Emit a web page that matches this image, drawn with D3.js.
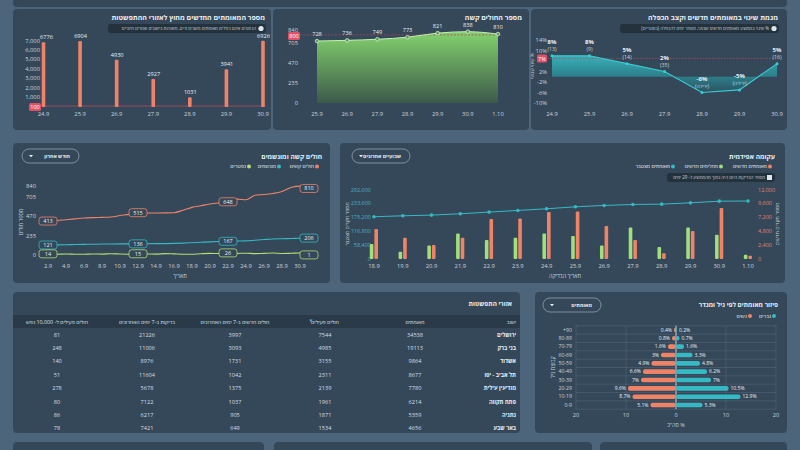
<!DOCTYPE html>
<html>
<head>
<meta charset="utf-8">
<script src="https://cdn.jsdelivr.net/npm/d3@7"></script>
<style>
  body { margin: 0; background: #4c657a; }
  svg { display: block; font-family: "Open Sans", "DejaVu Sans", sans-serif; }
</style>
</head>
<body>
<svg id="dash" width="800" height="450"></svg>
<script>
// ---- data ----
// new cases outside spreading areas
const outsideDates = ["24.9", "25.9", "26.9", "27.9", "28.9", "29.9", "30.9"];
const outsideCases = [6776, 6904, 4930, 2927, 1031, 3941, 6926];
const outsideTicks = [1000, 2000, 3000, 4000, 5000, 6000, 7000];
const outsideLimit = 100;

// severe patients
const severeDates = ["25.9", "26.9", "27.9", "28.9", "29.9", "30.9", "1.10"];
const severeValues = [728, 736, 749, 773, 821, 838, 810];
const severeTicks = [0, 235, 470, 705, 840];
const severeLimit = 800;

// weekly change trend
const trendDates = ["24.9", "25.9", "26.9", "27.9", "28.9", "29.9", "30.9"];
const trendPct = [8, 8, 5, 2, -6, -5, 5];
const trendDoubling = ["(13)", "(9)", "(14)", "(35)", "(ירידה)", "(ירידה)", "(16)"];
const trendTicks = [-10, -6, -2, 2, 10, 14];
const trendLimit = 7;

// severe & ventilated, last month
const monthDates = ["2.9", "3.9", "4.9", "5.9", "6.9", "7.9", "8.9", "9.9", "10.9", "11.9",
  "12.9", "13.9", "14.9", "15.9", "16.9", "17.9", "18.9", "19.9", "20.9", "21.9",
  "22.9", "23.9", "24.9", "25.9", "26.9", "27.9", "28.9", "29.9", "30.9", "1.10"];
const monthCritical = [413, 420, 430, 440, 450, 455, 458, 462, 480, 495,
  515, 512, 512, 513, 515, 545, 580, 600, 620, 635,
  648, 680, 672, 728, 736, 749, 773, 821, 838, 810];
const monthVentilated = [121, 123, 125, 127, 129, 131, 133, 134, 135, 136,
  136, 137, 138, 139, 141, 145, 150, 155, 160, 164,
  167, 170, 172, 180, 188, 195, 198, 200, 204, 206];
const monthDeceased = [14, 9, 12, 10, 9, 13, 11, 16, 12, 10,
  15, 13, 11, 17, 14, 10, 9, 16, 20, 18,
  26, 19, 22, 17, 20, 24, 18, 21, 25, 1];
const monthTicks = [0, 235, 470, 705, 840];
const monthLabelIdx = [0, 10, 20, 29];

// epidemic curve
const epiDates = ["18.9", "19.9", "20.9", "21.9", "22.9", "23.9", "24.9", "25.9", "26.9", "27.9", "28.9", "29.9", "30.9", "1.10"];
const epiNew = [5170, 3680, 2410, 3680, 6890, 7000, 8100, 8210, 5680, 3270, 980, 4820, 8790, 570];
const epiRecovered = [2580, 1260, 2350, 4420, 3270, 3680, 4420, 3960, 2350, 5460, 2070, 5460, 4190, 750];
const epiCumulative = [177400, 181600, 184400, 190000, 197000, 204000, 211000, 219300, 225000, 229000, 230500, 236000, 243000, 243500];
const epiLeftTicks = [0, 58400, 116800, 175200, 233600, 292000];
const epiRightTicks = [0, 2400, 4800, 7200, 9600, 12000];

// spreading areas table
const tableHeaders = ["ישוב", "מאומתים", "חולים פעילים", "חולים חדשים ב-7 ימים האחרונים", "בדיקות ב-7 ימים האחרונים", "חולים פעילים ל- 10,000 נפש"];
const cityNames = ["ירושלים", "בני ברק", "אשדוד", "תל אביב - יפו", "מודיעין עילית", "פתח תקווה", "נתניה", "באר שבע"];
const cityConfirmed = [34538, 19113, 9864, 8677, 7780, 6214, 5359, 4656];
const cityActive = [7544, 4985, 3155, 2311, 2139, 1961, 1871, 1534];
const cityNew7 = [3997, 3093, 1731, 1042, 1375, 1037, 905, 649];
const cityTests7 = [21226, 11006, 8976, 11604, 5678, 7122, 6217, 7421];
const cityPer10k = [81, 248, 140, 51, 278, 80, 86, 78];

// age / gender pyramid
const ageGroups = ["+90", "80-89", "70-79", "60-69", "50-59", "40-49", "30-39", "20-29", "10-19", "0-9"];
const womenPct = [0.4, 0.8, 1.6, 3, 4.9, 6.6, 7, 9.6, 8.7, 5.1];
const menPct = [0.2, 0.7, 1.6, 3.3, 4.8, 6.2, 7, 10.5, 12.9, 5.3];
const pyramidTicks = [-20, -10, 0, 10, 20];

// ---- style ----
const C = {
  card: "#35485a", head: "#2a3a49", text: "#e9eff3", tick: "#c9d3db",
  orange: "#ef8368", teal: "#35b9c3", green: "#9fe07c", lime: "#b4dc6e", red: "#df5069", pill: "#24323e"
};
const rtl = s => "\u202B" + s + "\u202C";
const svg = d3.select("#dash");
const defs = svg.append("defs");

function card(x, y, w, h) {
  svg.append("rect").attr("x", x).attr("y", y).attr("width", w).attr("height", h)
    .attr("rx", 4).attr("fill", C.card);
}
function title(x, y, t, size) {
  svg.append("text").attr("x", x).attr("y", y).attr("text-anchor", "end")
    .attr("font-size", size || 7).attr("font-weight", "bold").attr("fill", C.text).text(t);
}
function dropdown(x, y, w, t) {
  svg.append("rect").attr("x", x).attr("y", y).attr("width", w).attr("height", 14).attr("rx", 7)
    .attr("fill", "none").attr("stroke", "#8fa1af").attr("stroke-width", 0.8);
  svg.append("text").attr("x", x + w - 9).attr("y", y + 9.2).attr("text-anchor", "end")
    .attr("font-size", 5.2).attr("font-weight", "bold").attr("fill", C.text).text(t);
  svg.append("path").attr("d", `M${x + 7},${y + 6}l2,2.2l2,-2.2z`).attr("fill", C.text);
}
function infoPill(x1, x2, y, t, icon) {
  svg.append("rect").attr("x", x1).attr("y", y).attr("width", x2 - x1).attr("height", 9).attr("rx", 3)
    .attr("fill", C.pill);
  if (icon === "bars") {
    svg.append("rect").attr("x", x2 - 8).attr("y", y + 2).attr("width", 5).attr("height", 5).attr("fill", "#dfe6ea");
  } else {
    svg.append("circle").attr("cx", x2 - 5).attr("cy", y + 4.5).attr("r", 2.6).attr("fill", "#dfe6ea");
  }
  svg.append("text").attr("x", x2 - 10).attr("y", y + 6.2).attr("text-anchor", "end")
    .attr("font-size", 4.5).attr("fill", "#c9d3da").text(rtl(t));
}
function tickText(g, x, y, t, anchor, color, size) {
  g.append("text").attr("x", x).attr("y", y).attr("text-anchor", anchor || "middle")
    .attr("font-size", size || 5.8).attr("fill", color || C.tick).text(t);
}
function limitBox(x, y, w, t) {
  svg.append("rect").attr("x", x).attr("y", y - 4).attr("width", w).attr("height", 8).attr("rx", 1.5).attr("fill", C.red);
  svg.append("text").attr("x", x + w / 2).attr("y", y + 2.2).attr("text-anchor", "middle")
    .attr("font-size", 5.6).attr("fill", "#fff").text(t);
}

// ---- cards ----
card(13, -10, 774, 17);
card(13, 9, 258, 121);
card(273, 9, 256, 121);
card(531, 9, 256, 121);
card(13, 143, 317, 140);
card(340, 143, 445, 140);
card(13, 292, 507, 141);
card(535, 292, 252, 141);
card(13, 442, 251, 20);
card(274, 442, 318, 20);
card(600, 442, 187, 20);

// ---- panel 1: new cases outside spreading areas ----
{
  const g = svg.append("g");
  title(265, 20, "מספר המאומתים החדשים מחוץ לאזורי ההתפשטות");
  infoPill(108, 266, 24, "הנתונים אינם כוללים מאומתים משבים זרים, משוהות בישובים ואזורים חיוניים");
  const x = d3.scalePoint(outsideDates, [43.5, 263]);
  const y = d3.scaleLinear([0, 7000], [107, 40]);
  outsideTicks.forEach(t => tickText(g, 40, y(t) + (t === 7000 ? 3 : 2), d3.format(",")(t), "end"));
  g.append("line").attr("x1", 29).attr("x2", 266).attr("y1", y(outsideLimit)).attr("y2", y(outsideLimit))
    .attr("stroke", "#b8475c").attr("stroke-width", 0.8);
  g.selectAll("rect.bar").data(outsideCases).join("rect").attr("class", "bar")
    .attr("x", (d, i) => x(outsideDates[i]) - 1.8).attr("width", 3.6)
    .attr("y", d => y(d)).attr("height", d => y(0) - y(d)).attr("rx", 1).attr("fill", C.orange);
  g.selectAll("text.val").data(outsideCases).join("text").attr("class", "val")
    .attr("x", (d, i) => x(outsideDates[i]) + (i === 0 ? 3 : 0.5)).attr("y", d => y(d) - 3).attr("text-anchor", "middle")
    .attr("font-size", 5.6).attr("fill", C.text).text(d => d);
  outsideDates.forEach(d => tickText(g, x(d), 116, d));
  limitBox(29, y(0), 12, outsideLimit);
}

// ---- panel 2: severe patients ----
{
  const g = svg.append("g");
  title(522, 20, "מספר החולים קשה");
  const x = d3.scalePoint(severeDates, [317, 498]);
  const y = d3.scaleLinear([0, 840], [103, 31.5]);
  const grad = defs.append("linearGradient").attr("id", "gSevere").attr("gradientUnits", "userSpaceOnUse")
    .attr("x1", 0).attr("x2", 0).attr("y1", 35).attr("y2", 103);
  grad.append("stop").attr("offset", 0).attr("stop-color", "#80cc6c");
  grad.append("stop").attr("offset", 1).attr("stop-color", "#3c5a4b");
  severeTicks.forEach(t => tickText(g, 298, y(t) + (t === 840 ? 0 : 2), t, "end"));
  g.append("path").datum(severeValues)
    .attr("d", d3.area().x((d, i) => x(severeDates[i])).y0(y(0)).y1(d => y(d)).curve(d3.curveMonotoneX))
    .attr("fill", "url(#gSevere)");
  g.append("line").attr("x1", 300).attr("x2", 502).attr("y1", y(severeLimit)).attr("y2", y(severeLimit))
    .attr("stroke", "#a6485a").attr("stroke-width", 0.8).attr("stroke-dasharray", "2,1.5");
  g.append("path").datum(severeValues)
    .attr("d", d3.line().x((d, i) => x(severeDates[i])).y(d => y(d)).curve(d3.curveMonotoneX))
    .attr("fill", "none").attr("stroke", "#c7f0b6").attr("stroke-width", 1);
  g.selectAll("circle").data(severeValues).join("circle")
    .attr("cx", (d, i) => x(severeDates[i])).attr("cy", d => y(d)).attr("r", 1.8)
    .attr("fill", "#5b9a5a").attr("stroke", "#e4f7dc").attr("stroke-width", 0.7);
  g.selectAll("text.val").data(severeValues).join("text").attr("class", "val")
    .attr("x", (d, i) => x(severeDates[i])).attr("y", d => y(d) - 5).attr("text-anchor", "middle")
    .attr("font-size", 5.6).attr("fill", C.text).text(d => d);
  severeDates.forEach(d => tickText(g, x(d), 116, d));
  limitBox(288, y(severeLimit) + 1, 12, severeLimit);
}

// ---- panel 3: weekly change & doubling ----
{
  const g = svg.append("g");
  title(778, 20, "מגמת שינוי במאומתים חדשים וקצב הכפלה");
  infoPill(620, 779, 24, "% שינוי בממוצע מאומתים חדשים שבועי, מספר ימים להכפלה (בסוגריים)");
  const x = d3.scalePoint(trendDates, [552, 777]);
  const y = d3.scaleLinear([-10, 14], [103, 40]);
  const grad = defs.append("linearGradient").attr("id", "gTrend").attr("gradientUnits", "userSpaceOnUse")
    .attr("x1", 0).attr("x2", 0).attr("y1", 55).attr("y2", 95);
  grad.append("stop").attr("offset", 0).attr("stop-color", "#38b2ba");
  grad.append("stop").attr("offset", 0.55).attr("stop-color", "#2c7d88");
  grad.append("stop").attr("offset", 1).attr("stop-color", "#2d4c5c");
  trendTicks.forEach(t => tickText(g, 547, y(t) + 2, t + "%", "end"));
  g.append("path").datum(trendPct)
    .attr("d", d3.area().x((d, i) => x(trendDates[i])).y0(y(0)).y1(d => y(d)))
    .attr("fill", "url(#gTrend)");
  g.append("line").attr("x1", 547).attr("x2", 780).attr("y1", y(trendLimit)).attr("y2", y(trendLimit))
    .attr("stroke", "#b04a5c").attr("stroke-width", 0.8).attr("stroke-dasharray", "1.5,1.5");
  g.append("path").datum(trendPct)
    .attr("d", d3.line().x((d, i) => x(trendDates[i])).y(d => y(d)))
    .attr("fill", "none").attr("stroke", "#3ccbd1").attr("stroke-width", 1.2);
  g.selectAll("circle").data(trendPct).join("circle")
    .attr("cx", (d, i) => x(trendDates[i])).attr("cy", d => y(d)).attr("r", 1.5).attr("fill", "#3ccbd1");
  g.selectAll("text.pct").data(trendPct).join("text").attr("class", "pct")
    .attr("x", (d, i) => x(trendDates[i])).attr("y", d => y(d) - 12).attr("text-anchor", "middle")
    .attr("font-size", 6).attr("font-weight", "bold").attr("fill", C.text).text(d => d + "%");
  g.selectAll("text.dbl").data(trendDoubling).join("text").attr("class", "dbl")
    .attr("x", (d, i) => x(trendDates[i])).attr("y", (d, i) => y(trendPct[i]) - 5).attr("text-anchor", "middle")
    .attr("font-size", 5.2).attr("fill", C.tick).text(d => d);
  trendDates.forEach(d => tickText(g, x(d), 116, d));
  limitBox(537, y(trendLimit), 10, trendLimit + "%");
  g.append("text").attr("transform", `translate(534,${y(4)}) rotate(-90)`).attr("text-anchor", "middle")
    .attr("font-size", 4.6).attr("fill", C.tick).text(rtl("% שינוי שבועי"));
}

// ---- panel 4: severe and ventilated ----
{
  const g = svg.append("g");
  title(322, 159, "חולים קשה ומונשמים", 6.6);
  dropdown(22, 149, 57, "חודש אחרון");
  const series = [
    { name: "חולים קשים", values: monthCritical, color: C.orange, dot: 317 },
    { name: "מונשמים", values: monthVentilated, color: C.teal, dot: 279 },
    { name: "נפטרים", values: monthDeceased, color: C.lime, dot: 249 }
  ];
  series.forEach(s => {
    g.append("circle").attr("cx", s.dot).attr("cy", 166.5).attr("r", 2).attr("fill", s.color);
    g.append("text").attr("x", s.dot - 3).attr("y", 168.3).attr("text-anchor", "end")
      .attr("font-size", 5.2).attr("fill", C.text).text(s.name);
  });
  const x = d3.scalePoint(monthDates, [48, 309]);
  const y = d3.scaleLinear([0, 840], [255, 186]);
  monthTicks.forEach(t => tickText(g, 36, y(t) + 2, t, "end"));
  monthDates.forEach((d, i) => { if (i % 2 === 0) tickText(g, x(d), 268, d); });
  g.append("text").attr("x", 180).attr("y", 278).attr("text-anchor", "middle")
    .attr("font-size", 5.5).attr("fill", C.tick).text("תאריך");
  g.append("text").attr("transform", "translate(23,222) rotate(-90)").attr("text-anchor", "middle")
    .attr("font-size", 5.5).attr("fill", C.tick).text("מספר חולים");
  const line = d3.line().x((d, i) => x(monthDates[i])).y(d => y(d)).curve(d3.curveMonotoneX);
  series.forEach(s => {
    g.append("path").datum(s.values).attr("d", line)
      .attr("fill", "none").attr("stroke", s.color).attr("stroke-width", 1.1);
  });
  series.forEach(s => {
    monthLabelIdx.forEach(i => {
      const cx = x(monthDates[i]), cy = y(s.values[i]);
      g.append("rect").attr("x", cx - 9).attr("y", cy - 4).attr("width", 18).attr("height", 8).attr("rx", 2.5)
        .attr("fill", C.card).attr("stroke", s.color).attr("stroke-width", 0.8);
      g.append("text").attr("x", cx).attr("y", cy + 2).attr("text-anchor", "middle")
        .attr("font-size", 5.5).attr("fill", C.text).text(s.values[i]);
    });
  });
}

// ---- panel 5: epidemic curve ----
{
  const g = svg.append("g");
  title(775, 159, "עקומה אפידמית", 6.6);
  dropdown(352, 149, 58, "שבועיים אחרונים");
  const legend = [
    { name: "מאומתים חדשים", color: C.orange, dot: 770 },
    { name: "מחלימים חדשים", color: C.green, dot: 721 },
    { name: "מאומתים מצטבר", color: C.teal, dot: 673 }
  ];
  legend.forEach(s => {
    g.append("circle").attr("cx", s.dot).attr("cy", 166.5).attr("r", 2).attr("fill", s.color);
    g.append("text").attr("x", s.dot - 3).attr("y", 168.3).attr("text-anchor", "end")
      .attr("font-size", 5.2).attr("fill", C.text).text(s.name);
  });
  infoPill(667, 775, 173, "מספר הבדיקות היום היה נמוך מהממוצע ל- 29 ימים", "bars");
  const x = d3.scaleBand(epiDates, [359.6, 762.4]);
  const yL = d3.scaleLinear([0, 292000], [259, 189.5]);
  const yR = d3.scaleLinear([0, 12000], [259, 189.5]);
  const cx = d => x(d) + x.bandwidth() / 2;
  epiLeftTicks.forEach(t => tickText(g, 371, yL(t) + 2, d3.format(",")(t), "end", "#49aecb", 5.5));
  epiRightTicks.forEach(t => tickText(g, 758, yR(t) + 2, d3.format(",")(t), "start", "#e2806a", 5.5));
  g.append("text").attr("transform", "translate(349,224) rotate(-90)").attr("text-anchor", "middle")
    .attr("font-size", 5.3).attr("fill", C.tick).text("מספר מקרים מצטבר");
  g.append("text").attr("transform", "translate(779,224) rotate(-90)").attr("text-anchor", "middle")
    .attr("font-size", 5.3).attr("fill", C.tick).text("מספר מקרים חדשים");
  g.selectAll("rect.rec").data(epiRecovered).join("rect").attr("class", "rec")
    .attr("x", (d, i) => cx(epiDates[i]) - 4.2).attr("width", 3.6)
    .attr("y", d => yR(d)).attr("height", d => yR(0) - yR(d)).attr("rx", 1).attr("fill", C.green);
  g.selectAll("rect.new").data(epiNew).join("rect").attr("class", "new")
    .attr("x", (d, i) => cx(epiDates[i]) + 0.4).attr("width", 3.6)
    .attr("y", d => yR(d)).attr("height", d => yR(0) - yR(d)).attr("rx", 1).attr("fill", C.orange);
  g.append("path").datum(epiCumulative)
    .attr("d", d3.line().x((d, i) => cx(epiDates[i])).y(d => yL(d)))
    .attr("fill", "none").attr("stroke", C.teal).attr("stroke-width", 1);
  g.selectAll("circle.cum").data(epiCumulative).join("circle").attr("class", "cum")
    .attr("cx", (d, i) => cx(epiDates[i])).attr("cy", d => yL(d)).attr("r", 1.8).attr("fill", C.teal);
  epiDates.forEach(d => tickText(g, cx(d), 268, d));
  g.append("text").attr("x", 565).attr("y", 278).attr("text-anchor", "middle")
    .attr("font-size", 5.5).attr("fill", C.tick).text("תאריך הבדיקה");
}

// ---- panel 6: spreading areas table ----
{
  const g = svg.append("g");
  title(512, 306, "אזורי התפשטות", 6.4);
  g.append("rect").attr("x", 13).attr("y", 315).attr("width", 507).attr("height", 13).attr("fill", C.head);
  const colX = [516, 415, 325, 235, 147, 57];
  tableHeaders.forEach((h, i) => {
    g.append("text").attr("x", colX[i]).attr("y", 323.8).attr("text-anchor", i === 0 ? "end" : "middle")
      .attr("font-size", 5.3).attr("fill", "#dbe3e9").text(h);
  });
  g.append("path").attr("d", "M309,319.5l3.6,0l-1.8,2.4z").attr("fill", "#4aa8e0");
  const rowY = d3.scaleBand(cityNames, [328, 435]);
  const cols = [cityConfirmed, cityActive, cityNew7, cityTests7, cityPer10k];
  const rows = g.selectAll("g.row").data(cityNames).join("g").attr("class", "row")
    .attr("transform", d => `translate(0,${rowY(d) + rowY.bandwidth() / 2 + 2})`);
  rows.append("text").attr("x", colX[0]).attr("text-anchor", "end").attr("font-size", 5.6)
    .attr("font-weight", "bold").attr("fill", C.text).text(d => d);
  cols.forEach((col, c) => {
    rows.append("text").attr("x", colX[c + 1]).attr("text-anchor", "middle").attr("font-size", 5.6)
      .attr("fill", "#d6dee4").text((d, i) => col[i]);
  });
}

// ---- panel 7: age / gender pyramid ----
{
  const g = svg.append("g");
  title(778, 307, "פיזור מאומתים לפי גיל ומגדר", 6.4);
  dropdown(543, 298, 58, "מאומתים");
  g.append("circle").attr("cx", 774).attr("cy", 316).attr("r", 2).attr("fill", C.teal);
  g.append("text").attr("x", 771).attr("y", 318).attr("text-anchor", "end").attr("font-size", 5.2)
    .attr("fill", C.text).text("גברים");
  g.append("circle").attr("cx", 750).attr("cy", 316).attr("r", 2).attr("fill", C.orange);
  g.append("text").attr("x", 747).attr("y", 318).attr("text-anchor", "end").attr("font-size", 5.2)
    .attr("fill", C.text).text("נשים");
  const x = d3.scaleLinear([-20, 20], [576, 776]);
  const y = d3.scaleBand(ageGroups, [325.8, 409.2]);
  ageGroups.concat([null]).forEach(a => {
    const yy = a === null ? y.range()[1] : y(a);
    g.append("line").attr("x1", 576).attr("x2", 776).attr("y1", yy).attr("y2", yy)
      .attr("stroke", "#566b7c").attr("stroke-width", 0.5);
  });
  pyramidTicks.forEach(t => {
    g.append("line").attr("x1", x(t)).attr("x2", x(t)).attr("y1", 325.8).attr("y2", 409.2)
      .attr("stroke", t === 0 ? "#e8eef2" : "#566b7c").attr("stroke-width", t === 0 ? 0.8 : 0.5);
    tickText(g, x(t), 417, Math.abs(t), "middle", C.tick, 5.5);
  });
  const bh = 4.6;
  g.selectAll("rect.w").data(womenPct).join("rect").attr("class", "w")
    .attr("x", d => x(-d)).attr("width", d => x(0) - x(-d))
    .attr("y", (d, i) => y(ageGroups[i]) + y.bandwidth() / 2 - bh / 2).attr("height", bh)
    .attr("rx", 2).attr("fill", C.orange);
  g.selectAll("rect.m").data(menPct).join("rect").attr("class", "m")
    .attr("x", x(0)).attr("width", d => x(d) - x(0))
    .attr("y", (d, i) => y(ageGroups[i]) + y.bandwidth() / 2 - bh / 2).attr("height", bh)
    .attr("rx", 2).attr("fill", C.teal);
  g.selectAll("text.wl").data(womenPct).join("text").attr("class", "wl")
    .attr("x", d => x(-d) - 2).attr("y", (d, i) => y(ageGroups[i]) + y.bandwidth() / 2 + 1.8)
    .attr("text-anchor", "end").attr("font-size", 5).attr("fill", C.text).text(d => d + "%");
  g.selectAll("text.ml").data(menPct).join("text").attr("class", "ml")
    .attr("x", d => x(d) + 2).attr("y", (d, i) => y(ageGroups[i]) + y.bandwidth() / 2 + 1.8)
    .attr("text-anchor", "start").attr("font-size", 5).attr("fill", C.text).text(d => d + "%");
  ageGroups.forEach(a => tickText(g, 572, y(a) + y.bandwidth() / 2 + 1.8, a, "end", C.tick, 5.2));
  g.append("text").attr("x", 676).attr("y", 427).attr("text-anchor", "middle").attr("font-size", 5.5)
    .attr("fill", C.tick).text(rtl("% סה\"כ"));
  g.append("text").attr("transform", "translate(555,367) rotate(-90)").attr("text-anchor", "middle")
    .attr("font-size", 5.5).attr("fill", C.tick).text("קבוצת גיל");
}
</script>
</body>
</html>
